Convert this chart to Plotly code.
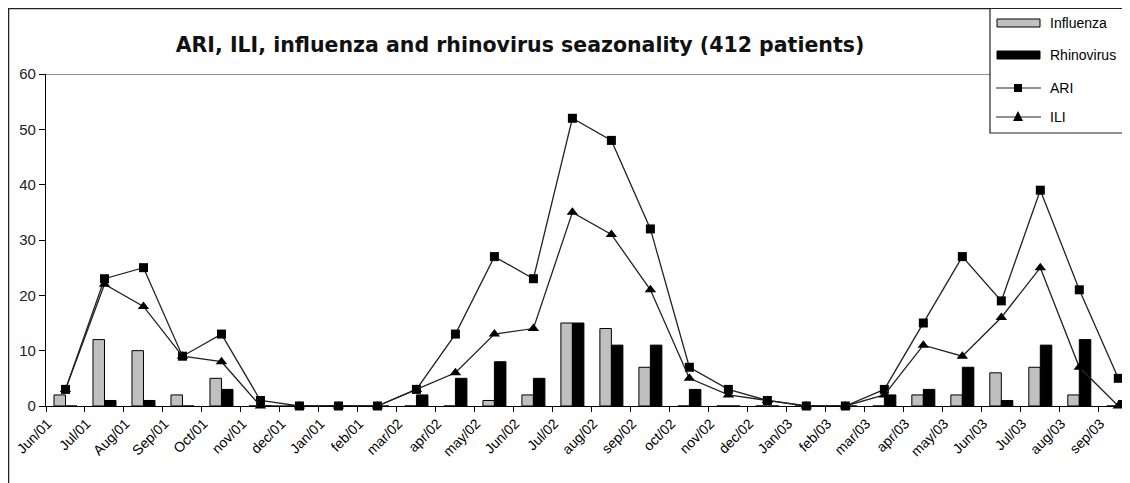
import plotly.graph_objects as go

months = ["Jun/01", "Jul/01", "Aug/01", "Sep/01", "Oct/01", "nov/01", "dec/01", "Jan/01",
          "feb/01", "mar/02", "apr/02", "may/02", "Jun/02", "Jul/02", "aug/02", "sep/02",
          "oct/02", "nov/02", "dec/02", "Jan/03", "feb/03", "mar/03", "apr/03", "may/03",
          "Jun/03", "Jul/03", "aug/03", "sep/03"]
influenza = [2, 12, 10, 2, 5, 0, 0, 0, 0, 0, 0, 1, 2, 15, 14, 7, 0, 0, 0, 0, 0, 0, 2, 2, 6, 7, 2, 0]
rhinovirus = [0, 1, 1, 0, 3, 0, 0, 0, 0, 2, 5, 8, 5, 15, 11, 11, 3, 0, 0, 0, 0, 2, 3, 7, 1, 11, 12, 1]
ari = [3, 23, 25, 9, 13, 1, 0, 0, 0, 3, 13, 27, 23, 52, 48, 32, 7, 3, 1, 0, 0, 3, 15, 27, 19, 39, 21, 5]
ili = [3, 22, 18, 9, 8, 0, 0, 0, 0, 3, 6, 13, 14, 35, 31, 21, 5, 2, 1, 0, 0, 2, 11, 9, 16, 25, 7, 0]
y_ticks = [0, 10, 20, 30, 40, 50, 60]

# page body has an 8px margin; work in target-pixel coordinates and shift
OFF = 8
W, H = 1130 - OFF, 483 - OFF
ML, MR, MT = 46 - OFF, 0, 74 - OFF
MB = H - (406 - OFF)
PW, PH = W - ML - MR, H - MT - MB


def px(x):
    return (x - OFF - ML) / PW


def py(y):
    return (H - MB - (y - OFF)) / PH


fig = go.Figure()
fig.add_trace(go.Bar(x=months, y=influenza, name="Influenza",
                     marker=dict(color="#c0c0c0", line=dict(color="black", width=1)),
                     showlegend=False))
fig.add_trace(go.Bar(x=months, y=rhinovirus, name="Rhinovirus",
                     marker=dict(color="black", line=dict(color="black", width=1)),
                     showlegend=False))
fig.add_trace(go.Scatter(x=months, y=ari, name="ARI", mode="lines+markers",
                         line=dict(color="#222222", width=1.3),
                         marker=dict(symbol="square", size=9, color="black"),
                         showlegend=False, cliponaxis=False))
fig.add_trace(go.Scatter(x=months, y=ili, name="ILI", mode="lines+markers",
                         line=dict(color="#222222", width=1.3),
                         marker=dict(symbol="triangle-up", size=10, color="black"),
                         showlegend=False, cliponaxis=False))

shapes = []
# outer frame (left and top)
shapes.append(dict(type="line", xref="paper", yref="paper", x0=px(8.5), x1=px(8.5), y0=py(490), y1=py(6),
                   line=dict(color="#222", width=1.5)))
shapes.append(dict(type="line", xref="paper", yref="paper", x0=px(8.5), x1=px(1140), y0=py(8.5), y1=py(8.5),
                   line=dict(color="#222", width=1.5)))
# top line at 60
shapes.append(dict(type="line", xref="paper", yref="y", x0=0, x1=1, y0=60, y1=60,
                   line=dict(color="#666", width=1.5)))
# legend box
shapes.append(dict(type="rect", xref="paper", yref="paper", x0=px(990), x1=px(1140), y0=py(133), y1=py(8.5),
                   fillcolor="white", line=dict(color="#222", width=1.2), layer="above"))
shapes.append(dict(type="rect", xref="paper", yref="paper", x0=px(997), x1=px(1040), y0=py(27), y1=py(19),
                   fillcolor="#c0c0c0", line=dict(color="black", width=1), layer="above"))
shapes.append(dict(type="rect", xref="paper", yref="paper", x0=px(997), x1=px(1040), y0=py(59), y1=py(51),
                   fillcolor="black", line=dict(color="black", width=1), layer="above"))
shapes.append(dict(type="line", xref="paper", yref="paper", x0=px(996), x1=px(1041), y0=py(88), y1=py(88),
                   line=dict(color="#222", width=1.2), layer="above"))
shapes.append(dict(type="rect", xref="paper", yref="paper", x0=px(1014), x1=px(1022), y0=py(92), y1=py(84),
                   fillcolor="black", line=dict(color="black", width=0), layer="above"))
shapes.append(dict(type="line", xref="paper", yref="paper", x0=px(996), x1=px(1041), y0=py(117), y1=py(117),
                   line=dict(color="#222", width=1.2), layer="above"))
shapes.append(dict(type="path", xref="paper", yref="paper",
                   path=f"M {px(1013)} {py(121)} L {px(1023)} {py(121)} L {px(1018)} {py(111)} Z",
                   fillcolor="black", line=dict(color="black", width=0), layer="above"))

annotations = []
for label, yy in [("Influenza", 23), ("Rhinovirus", 55), ("ARI", 88), ("ILI", 117)]:
    annotations.append(dict(text=label, xref="paper", yref="paper", x=px(1048), y=py(yy),
                            xanchor="left", yanchor="middle", showarrow=False,
                            font=dict(family="Liberation Sans, Arial", size=14, color="black")))

fig.update_layout(
    width=W, height=H,
    margin=dict(l=ML, r=MR, t=MT, b=MB),
    paper_bgcolor="white", plot_bgcolor="white",
    barmode="group", bargap=0.41, bargroupgap=0,
    title=dict(text="<b>ARI, ILI, influenza and rhinovirus seazonality (412 patients)</b>",
               xref="container", yref="container", x=(520 - OFF) / W, y=1 - (45 - OFF) / H,
               xanchor="center", yanchor="middle",
               font=dict(family="DejaVu Sans", size=20.5, color="#111")),
    shapes=shapes,
    annotations=annotations,
    xaxis=dict(type="category", range=[-0.5, 27.3], showgrid=False, zeroline=False,
               showline=True, linecolor="black", linewidth=1.2,
               ticks="outside", ticklen=5, tickcolor="black", tickson="boundaries",
               tickangle=-45, ticklabelshift=-18, ticklabelstandoff=3,
               tickfont=dict(family="Liberation Sans, Arial", size=14, color="black")),
    yaxis=dict(range=[0, 60], tickvals=y_ticks, showgrid=False, zeroline=False,
               showline=True, linecolor="black", linewidth=1.2,
               ticks="outside", ticklen=6, tickcolor="black",
               tickfont=dict(family="Liberation Sans, Arial", size=15, color="#222")),
)

fig.write_html("out.html")
